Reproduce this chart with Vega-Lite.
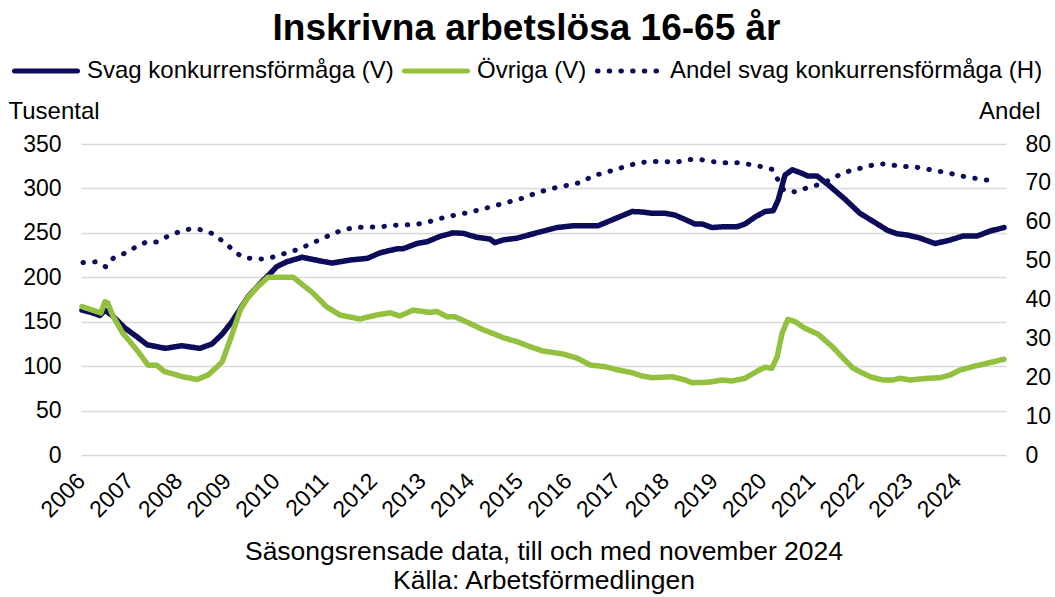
{
  "$schema": "https://vega.github.io/schema/vega-lite/v6.json",
  "width": 925,
  "height": 311,
  "autosize": {"type": "none"},
  "padding": {"left": 81, "top": 144, "right": 49, "bottom": 142},
  "background": "white",
  "config": {
    "font": "Liberation Sans",
    "view": {"stroke": null},
    "legend": {
      "orient": "none",
      "legendX": -69,
      "legendY": -107,
      "direction": "horizontal",
      "symbolType": "stroke",
      "symbolSize": 3969,
      "symbolStrokeWidth": 5,
      "labelFontSize": 24,
      "labelFont": "Liberation Sans",
      "labelColor": "#000000",
      "labelOffset": 7,
      "columnPadding": 0,
      "padding": 0,
      "labelLimit": 0
    }
  },
  "title": {
    "text": "Inskrivna arbetslösa 16-65 år",
    "fontSize": 37,
    "fontWeight": "bold",
    "font": "Liberation Sans",
    "color": "#000000",
    "anchor": "middle",
    "frame": "group",
    "dx": -17,
    "dy": 21,
    "offset": 10
  },
  "datasets": {
    "svag": [
      {"t":2006.02,"v":163},{"t":2006.23,"v":160},{"t":2006.39,"v":157},{"t":2006.49,"v":163},{"t":2006.64,"v":157},{"t":2006.90,"v":143},{"t":2007.15,"v":133},{"t":2007.36,"v":124},{"t":2007.73,"v":120},{"t":2008.07,"v":123},{"t":2008.44,"v":120},{"t":2008.69,"v":125},{"t":2008.90,"v":136},{"t":2009.10,"v":150},{"t":2009.43,"v":178},{"t":2009.68,"v":193},{"t":2009.89,"v":204.5},{"t":2010.02,"v":212},{"t":2010.23,"v":217.5},{"t":2010.54,"v":222.5},{"t":2010.95,"v":218},{"t":2011.16,"v":216},{"t":2011.54,"v":219.5},{"t":2011.88,"v":221.3},{"t":2012.14,"v":227.5},{"t":2012.49,"v":232},{"t":2012.61,"v":232},{"t":2012.90,"v":238},{"t":2013.11,"v":240},{"t":2013.37,"v":246},{"t":2013.64,"v":250},{"t":2013.85,"v":249.5},{"t":2014.13,"v":245},{"t":2014.40,"v":243},{"t":2014.50,"v":239},{"t":2014.67,"v":242},{"t":2014.96,"v":244},{"t":2015.22,"v":248},{"t":2015.43,"v":251},{"t":2015.78,"v":256},{"t":2016.11,"v":258},{"t":2016.62,"v":258},{"t":2016.97,"v":266},{"t":2017.32,"v":274},{"t":2017.52,"v":273.5},{"t":2017.73,"v":272},{"t":2018.00,"v":272},{"t":2018.20,"v":270},{"t":2018.41,"v":265},{"t":2018.61,"v":260},{"t":2018.76,"v":260},{"t":2018.96,"v":256},{"t":2019.23,"v":257},{"t":2019.48,"v":257},{"t":2019.64,"v":260},{"t":2019.85,"v":268},{"t":2020.05,"v":274},{"t":2020.22,"v":275},{"t":2020.32,"v":287},{"t":2020.46,"v":315},{"t":2020.61,"v":321},{"t":2020.81,"v":317},{"t":2020.93,"v":314},{"t":2021.12,"v":314},{"t":2021.35,"v":304},{"t":2021.69,"v":288},{"t":2022.00,"v":272},{"t":2022.27,"v":263},{"t":2022.56,"v":253},{"t":2022.76,"v":249},{"t":2022.97,"v":247.6},{"t":2023.24,"v":244},{"t":2023.54,"v":238},{"t":2023.79,"v":241},{"t":2024.12,"v":246.5},{"t":2024.41,"v":246.5},{"t":2024.67,"v":252},{"t":2024.96,"v":256}
    ],
    "ovriga": [
      {"t":2006.02,"v":167},{"t":2006.35,"v":161},{"t":2006.41,"v":160},{"t":2006.49,"v":172.5},{"t":2006.55,"v":171},{"t":2006.66,"v":156},{"t":2006.86,"v":137},{"t":2007.15,"v":118},{"t":2007.38,"v":101},{"t":2007.56,"v":101},{"t":2007.71,"v":94},{"t":2008.10,"v":88},{"t":2008.38,"v":85},{"t":2008.61,"v":90},{"t":2008.79,"v":99},{"t":2008.90,"v":105},{"t":2009.06,"v":129},{"t":2009.27,"v":163},{"t":2009.41,"v":176},{"t":2009.62,"v":189},{"t":2009.84,"v":200},{"t":2010.36,"v":200},{"t":2010.77,"v":182},{"t":2011.04,"v":167},{"t":2011.32,"v":157.5},{"t":2011.73,"v":153},{"t":2012.07,"v":157.5},{"t":2012.35,"v":160},{"t":2012.55,"v":156.5},{"t":2012.82,"v":163},{"t":2013.17,"v":160.5},{"t":2013.31,"v":161.5},{"t":2013.52,"v":155.6},{"t":2013.68,"v":155.6},{"t":2013.99,"v":148},{"t":2014.26,"v":141},{"t":2014.50,"v":136},{"t":2014.67,"v":132},{"t":2014.96,"v":127.5},{"t":2015.22,"v":122},{"t":2015.49,"v":117},{"t":2015.90,"v":113.7},{"t":2016.19,"v":109},{"t":2016.46,"v":101.3},{"t":2016.76,"v":99.4},{"t":2017.03,"v":95.7},{"t":2017.32,"v":92.6},{"t":2017.52,"v":89},{"t":2017.73,"v":87},{"t":2018.14,"v":88},{"t":2018.41,"v":84.4},{"t":2018.55,"v":81.4},{"t":2018.88,"v":81.8},{"t":2019.17,"v":84.4},{"t":2019.37,"v":83.3},{"t":2019.64,"v":86.3},{"t":2019.91,"v":95},{"t":2020.05,"v":98.7},{"t":2020.19,"v":97.6},{"t":2020.30,"v":110.6},{"t":2020.40,"v":137},{"t":2020.52,"v":152.7},{"t":2020.67,"v":150},{"t":2020.87,"v":142.6},{"t":2021.14,"v":136},{"t":2021.43,"v":122},{"t":2021.69,"v":107},{"t":2021.86,"v":97.6},{"t":2022.21,"v":88},{"t":2022.47,"v":84.4},{"t":2022.68,"v":84.4},{"t":2022.82,"v":86.3},{"t":2023.03,"v":84.4},{"t":2023.38,"v":86.3},{"t":2023.65,"v":87},{"t":2023.85,"v":90},{"t":2024.06,"v":95.7},{"t":2024.32,"v":99.4},{"t":2024.61,"v":103.2},{"t":2024.96,"v":107.7}
    ],
    "andel": [
      {"t":2006.04,"v":49.5},{"t":2006.31,"v":49.7},{"t":2006.51,"v":48.4},{"t":2006.66,"v":50.6},{"t":2006.88,"v":51.8},{"t":2007.11,"v":53.4},{"t":2007.34,"v":54.8},{"t":2007.56,"v":54.8},{"t":2007.79,"v":56.3},{"t":2008.01,"v":57.4},{"t":2008.26,"v":58.2},{"t":2008.51,"v":57.9},{"t":2008.73,"v":56.8},{"t":2008.92,"v":54.9},{"t":2009.12,"v":52.8},{"t":2009.31,"v":50.9},{"t":2009.53,"v":50.5},{"t":2009.78,"v":50.4},{"t":2010.03,"v":51.2},{"t":2010.27,"v":52.2},{"t":2010.50,"v":53},{"t":2010.72,"v":54.4},{"t":2010.95,"v":55.6},{"t":2011.18,"v":57},{"t":2011.42,"v":58},{"t":2011.67,"v":58.6},{"t":2011.92,"v":58.6},{"t":2012.16,"v":58.7},{"t":2012.41,"v":59.1},{"t":2012.68,"v":59.2},{"t":2012.92,"v":59.4},{"t":2013.15,"v":60},{"t":2013.40,"v":60.9},{"t":2013.64,"v":61.6},{"t":2013.89,"v":62.2},{"t":2014.13,"v":62.9},{"t":2014.38,"v":63.7},{"t":2014.61,"v":64.5},{"t":2014.85,"v":65.3},{"t":2015.08,"v":66.1},{"t":2015.33,"v":67.3},{"t":2015.57,"v":68.2},{"t":2015.80,"v":68.9},{"t":2016.05,"v":69.5},{"t":2016.29,"v":70.2},{"t":2016.52,"v":71.9},{"t":2016.74,"v":72.5},{"t":2016.99,"v":73.5},{"t":2017.24,"v":74.4},{"t":2017.46,"v":75.2},{"t":2017.71,"v":75.5},{"t":2017.98,"v":75.5},{"t":2018.22,"v":75.3},{"t":2018.47,"v":76},{"t":2018.72,"v":76},{"t":2018.96,"v":75.5},{"t":2019.21,"v":75.2},{"t":2019.48,"v":75.2},{"t":2019.70,"v":74.8},{"t":2019.97,"v":74.2},{"t":2020.19,"v":73.5},{"t":2020.32,"v":70.7},{"t":2020.44,"v":68},{"t":2020.67,"v":67.7},{"t":2020.91,"v":68.7},{"t":2021.14,"v":69.5},{"t":2021.39,"v":70.8},{"t":2021.61,"v":72.3},{"t":2021.84,"v":73.3},{"t":2022.09,"v":74},{"t":2022.33,"v":74.8},{"t":2022.58,"v":74.9},{"t":2022.82,"v":74.2},{"t":2023.07,"v":74.2},{"t":2023.32,"v":73.7},{"t":2023.56,"v":73.1},{"t":2023.81,"v":72.6},{"t":2024.06,"v":71.8},{"t":2024.30,"v":71.3},{"t":2024.55,"v":70.8},{"t":2024.82,"v":70.5}
    ]
  },
  "encoding": {
    "x": {
      "field": "t",
      "type": "quantitative",
      "scale": {"domain": [2006, 2025], "nice": false, "zero": false},
      "axis": {
        "values": [2006,2007,2008,2009,2010,2011,2012,2013,2014,2015,2016,2017,2018,2019,2020,2021,2022,2023,2024],
        "format": "d",
        "grid": false,
        "ticks": false,
        "domain": false,
        "labelAngle": -45,
        "labelAlign": "right",
        "labelBaseline": "middle",
        "labelPadding": 22,
        "labelFontSize": 23,
        "labelColor": "#000000",
        "labelOverlap": false,
        "labelFlush": false,
        "title": ["Säsongsrensade data, till och med november 2024", "Källa: Arbetsförmedlingen"],
        "titleFontSize": 26.5,
        "titleFontWeight": "normal",
        "titleColor": "#000000",
        "titleLineHeight": 29,
        "titleBaseline": "top",
        "titleY": 83,
        "titleAnchor": "middle"
      }
    }
  },
  "layer": [
    {
      "encoding": {
        "y": {
          "field": "v",
          "type": "quantitative",
          "scale": {"domain": [0, 350], "nice": false},
          "axis": {
            "orient": "left",
            "values": [0,50,100,150,200,250,300,350],
            "grid": true,
            "gridColor": "#d9d9d9",
            "gridWidth": 1.5,
            "ticks": false,
            "domain": false,
            "labelFontSize": 23,
            "labelColor": "#000000",
            "labelPadding": 20,
            "title": "Tusental",
            "titleAngle": 0,
            "titleAlign": "left",
            "titleBaseline": "alphabetic",
            "titleX": -73,
            "titleY": -26,
            "titleFontSize": 24,
            "titleFontWeight": "normal",
            "titleColor": "#000000"
          }
        }
      },
      "layer": [
        {
          "data": {"name": "svag"},
          "mark": {"type": "line", "strokeWidth": 5.5, "strokeCap": "round", "strokeJoin": "round"},
          "encoding": {
            "color": {
              "datum": "Svag konkurrensförmåga (V)",
              "type": "nominal",
              "scale": {"domain": ["Svag konkurrensförmåga (V)", "Övriga (V)", "Andel svag konkurrensförmåga (H)"], "range": ["#0c0c5a", "#93c13f", "#0c0c5a"]},
              "legend": {"title": null, "encode": {"symbols": {"update": {"strokeCap": {"value": "round"}}}}}
            },
            "strokeDash": {
              "datum": "Svag konkurrensförmåga (V)",
              "type": "nominal",
              "scale": {"domain": ["Svag konkurrensförmåga (V)", "Övriga (V)", "Andel svag konkurrensförmåga (H)"], "range": [[1, 0], [1, 0], [0.5, 11.2]]},
              "legend": {"title": null, "encode": {"symbols": {"update": {"strokeCap": {"value": "round"}}}}}
            }
          }
        },
        {
          "data": {"name": "ovriga"},
          "mark": {"type": "line", "strokeWidth": 5.5, "strokeCap": "round", "strokeJoin": "round"},
          "encoding": {
            "color": {"datum": "Övriga (V)", "type": "nominal"},
            "strokeDash": {"datum": "Övriga (V)", "type": "nominal"}
          }
        }
      ]
    },
    {
      "data": {"name": "andel"},
      "mark": {"type": "line", "strokeWidth": 5, "strokeCap": "round", "strokeJoin": "round"},
      "encoding": {
        "y": {
          "field": "v",
          "type": "quantitative",
          "scale": {"domain": [0, 80], "nice": false},
          "axis": {
            "orient": "right",
            "values": [0,10,20,30,40,50,60,70,80],
            "grid": false,
            "ticks": false,
            "domain": false,
            "labelFontSize": 23,
            "labelColor": "#000000",
            "labelPadding": 19,
            "title": "Andel",
            "titleAngle": 0,
            "titleAlign": "right",
            "titleBaseline": "alphabetic",
            "titleX": 34,
            "titleY": -26,
            "titleFontSize": 24,
            "titleFontWeight": "normal",
            "titleColor": "#000000"
          }
        },
        "color": {"datum": "Andel svag konkurrensförmåga (H)", "type": "nominal"},
        "strokeDash": {"datum": "Andel svag konkurrensförmåga (H)", "type": "nominal"}
      }
    }
  ],
  "resolve": {"scale": {"y": "independent"}}
}
